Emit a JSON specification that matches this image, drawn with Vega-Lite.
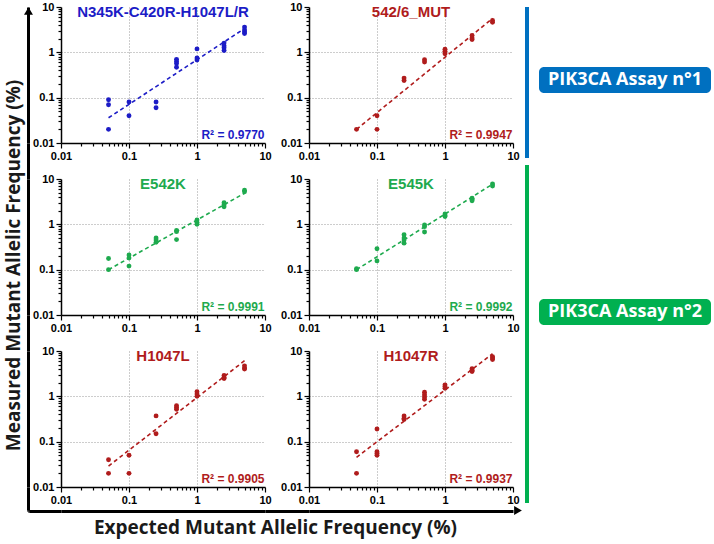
{
"$schema": "https://vega.github.io/schema/vega-lite/v6.json",
"padding": {"left": 3, "top": 1, "right": 0, "bottom": 6},
"background": "white",
"data": {"values": [{"v": 1}]},
"config": {
 "view": {"stroke": null},
 "font": "Liberation Sans",
 "axis": {"domainColor": "black", "domainWidth": 1.5, "tickColor": "black", "tickWidth": 1.2, "labelFont": "Liberation Sans", "labelFontSize": 11, "labelFontWeight": "bold", "labelColor": "black", "labelFlush": false, "labelOverlap": false, "labelPadding": 2, "gridColor": "#9a9a9a", "gridDash": [1, 2], "gridWidth": 1}
},
"datasets": {
 "pts": [
  {"panel": "A", "expected": 0.05, "measured": 0.09}, {"panel": "A", "expected": 0.05, "measured": 0.07}, {"panel": "A", "expected": 0.05, "measured": 0.02},
  {"panel": "A", "expected": 0.1, "measured": 0.08}, {"panel": "A", "expected": 0.1, "measured": 0.04},
  {"panel": "A", "expected": 0.25, "measured": 0.08}, {"panel": "A", "expected": 0.25, "measured": 0.06},
  {"panel": "A", "expected": 0.5, "measured": 0.70}, {"panel": "A", "expected": 0.5, "measured": 0.63}, {"panel": "A", "expected": 0.5, "measured": 0.57}, {"panel": "A", "expected": 0.5, "measured": 0.47},
  {"panel": "A", "expected": 1, "measured": 1.19}, {"panel": "A", "expected": 1, "measured": 0.75}, {"panel": "A", "expected": 1, "measured": 0.68},
  {"panel": "A", "expected": 2.5, "measured": 1.6}, {"panel": "A", "expected": 2.5, "measured": 1.4}, {"panel": "A", "expected": 2.5, "measured": 1.27}, {"panel": "A", "expected": 2.5, "measured": 1.1},
  {"panel": "A", "expected": 5, "measured": 3.6}, {"panel": "A", "expected": 5, "measured": 3.1}, {"panel": "A", "expected": 5, "measured": 2.8}, {"panel": "A", "expected": 5, "measured": 2.6},
  {"panel": "B", "expected": 0.05, "measured": 0.02},
  {"panel": "B", "expected": 0.1, "measured": 0.04}, {"panel": "B", "expected": 0.1, "measured": 0.02},
  {"panel": "B", "expected": 0.25, "measured": 0.27}, {"panel": "B", "expected": 0.25, "measured": 0.24},
  {"panel": "B", "expected": 0.5, "measured": 0.69}, {"panel": "B", "expected": 0.5, "measured": 0.61},
  {"panel": "B", "expected": 1, "measured": 1.17}, {"panel": "B", "expected": 1, "measured": 1.05}, {"panel": "B", "expected": 1, "measured": 0.93},
  {"panel": "B", "expected": 2.5, "measured": 2.35}, {"panel": "B", "expected": 2.5, "measured": 2.08}, {"panel": "B", "expected": 2.5, "measured": 1.91},
  {"panel": "B", "expected": 5, "measured": 5.05}, {"panel": "B", "expected": 5, "measured": 4.6},
  {"panel": "C", "expected": 0.05, "measured": 0.176}, {"panel": "C", "expected": 0.05, "measured": 0.1},
  {"panel": "C", "expected": 0.1, "measured": 0.21}, {"panel": "C", "expected": 0.1, "measured": 0.18}, {"panel": "C", "expected": 0.1, "measured": 0.12},
  {"panel": "C", "expected": 0.25, "measured": 0.5}, {"panel": "C", "expected": 0.25, "measured": 0.45}, {"panel": "C", "expected": 0.25, "measured": 0.40},
  {"panel": "C", "expected": 0.5, "measured": 0.73}, {"panel": "C", "expected": 0.5, "measured": 0.69}, {"panel": "C", "expected": 0.5, "measured": 0.46},
  {"panel": "C", "expected": 1, "measured": 1.25}, {"panel": "C", "expected": 1, "measured": 1.1}, {"panel": "C", "expected": 1, "measured": 1.0},
  {"panel": "C", "expected": 2.5, "measured": 3.0}, {"panel": "C", "expected": 2.5, "measured": 2.71}, {"panel": "C", "expected": 2.5, "measured": 2.44},
  {"panel": "C", "expected": 5, "measured": 5.67}, {"panel": "C", "expected": 5, "measured": 5.2},
  {"panel": "D", "expected": 0.05, "measured": 0.105}, {"panel": "D", "expected": 0.05, "measured": 0.1},
  {"panel": "D", "expected": 0.1, "measured": 0.29}, {"panel": "D", "expected": 0.1, "measured": 0.156},
  {"panel": "D", "expected": 0.25, "measured": 0.59}, {"panel": "D", "expected": 0.25, "measured": 0.5}, {"panel": "D", "expected": 0.25, "measured": 0.45}, {"panel": "D", "expected": 0.25, "measured": 0.385},
  {"panel": "D", "expected": 0.5, "measured": 0.97}, {"panel": "D", "expected": 0.5, "measured": 0.89}, {"panel": "D", "expected": 0.5, "measured": 0.68},
  {"panel": "D", "expected": 1, "measured": 1.7}, {"panel": "D", "expected": 1, "measured": 1.56}, {"panel": "D", "expected": 1, "measured": 1.48},
  {"panel": "D", "expected": 2.5, "measured": 3.78}, {"panel": "D", "expected": 2.5, "measured": 3.54}, {"panel": "D", "expected": 2.5, "measured": 3.3},
  {"panel": "D", "expected": 5, "measured": 7.74}, {"panel": "D", "expected": 5, "measured": 7.0},
  {"panel": "E", "expected": 0.05, "measured": 0.04}, {"panel": "E", "expected": 0.05, "measured": 0.02},
  {"panel": "E", "expected": 0.1, "measured": 0.05}, {"panel": "E", "expected": 0.1, "measured": 0.02},
  {"panel": "E", "expected": 0.25, "measured": 0.37}, {"panel": "E", "expected": 0.25, "measured": 0.15},
  {"panel": "E", "expected": 0.5, "measured": 0.62}, {"panel": "E", "expected": 0.5, "measured": 0.57}, {"panel": "E", "expected": 0.5, "measured": 0.52},
  {"panel": "E", "expected": 1, "measured": 1.27}, {"panel": "E", "expected": 1, "measured": 1.13}, {"panel": "E", "expected": 1, "measured": 1.0},
  {"panel": "E", "expected": 2.5, "measured": 2.88}, {"panel": "E", "expected": 2.5, "measured": 2.6}, {"panel": "E", "expected": 2.5, "measured": 2.47},
  {"panel": "E", "expected": 5, "measured": 4.7}, {"panel": "E", "expected": 5, "measured": 4.2}, {"panel": "E", "expected": 5, "measured": 4.0},
  {"panel": "F", "expected": 0.05, "measured": 0.06}, {"panel": "F", "expected": 0.05, "measured": 0.02},
  {"panel": "F", "expected": 0.1, "measured": 0.19}, {"panel": "F", "expected": 0.1, "measured": 0.06}, {"panel": "F", "expected": 0.1, "measured": 0.055}, {"panel": "F", "expected": 0.1, "measured": 0.05},
  {"panel": "F", "expected": 0.25, "measured": 0.37}, {"panel": "F", "expected": 0.25, "measured": 0.33}, {"panel": "F", "expected": 0.25, "measured": 0.31},
  {"panel": "F", "expected": 0.5, "measured": 1.23}, {"panel": "F", "expected": 0.5, "measured": 1.09}, {"panel": "F", "expected": 0.5, "measured": 0.97}, {"panel": "F", "expected": 0.5, "measured": 0.86},
  {"panel": "F", "expected": 1, "measured": 1.79}, {"panel": "F", "expected": 1, "measured": 1.64}, {"panel": "F", "expected": 1, "measured": 1.5},
  {"panel": "F", "expected": 2.5, "measured": 4.05}, {"panel": "F", "expected": 2.5, "measured": 3.78}, {"panel": "F", "expected": 2.5, "measured": 3.54},
  {"panel": "F", "expected": 5, "measured": 7.5}, {"panel": "F", "expected": 5, "measured": 6.98}, {"panel": "F", "expected": 5, "measured": 6.5}
 ],
 "fit": [
  {"panel": "A", "expected": 0.05, "measured": 0.036}, {"panel": "A", "expected": 5, "measured": 3.35},
  {"panel": "B", "expected": 0.05, "measured": 0.02}, {"panel": "B", "expected": 5, "measured": 5.6},
  {"panel": "C", "expected": 0.05, "measured": 0.1}, {"panel": "C", "expected": 5, "measured": 4.86},
  {"panel": "D", "expected": 0.05, "measured": 0.1}, {"panel": "D", "expected": 5, "measured": 7.7},
  {"panel": "E", "expected": 0.05, "measured": 0.029}, {"panel": "E", "expected": 5, "measured": 6.1},
  {"panel": "F", "expected": 0.05, "measured": 0.045}, {"panel": "F", "expected": 5, "measured": 8.7}
 ],
 "names": [
  {"panel": "A", "name": "N345K-C420R-H1047L/R"}, {"panel": "B", "name": "542/6_MUT"}, {"panel": "C", "name": "E542K"},
  {"panel": "D", "name": "E545K"}, {"panel": "E", "name": "H1047L"}, {"panel": "F", "name": "H1047R"}
 ]
},
"hconcat": [
 {"concat": [
  {"width": 1, "height": 136, "mark": {"type": "point", "shape": "triangle-up", "filled": true, "size": 80, "color": "black", "opacity": 1, "yOffset": 4},
   "encoding": {"y": {"field": "v", "type": "quantitative", "scale": {"domain": [0, 1], "nice": false}, "axis": {"title": null, "labels": false, "ticks": false, "grid": false, "domainWidth": 3, "domainColor": "black"}}}},
  {"width": 32, "height": 136, "mark": {"type": "point", "opacity": 0}, "encoding": {}},
  {"width": 204, "height": 136,
   "layer": [
    {"data": {"name": "fit"}, "transform": [{"filter": "datum.panel == 'A'"}],
     "mark": {"type": "line", "color": "#1c1cc6", "strokeDash": [4, 3], "strokeWidth": 1.6},
     "encoding": {
      "x": {"field": "expected", "type": "quantitative", "scale": {"type": "log", "domain": [0.01, 10]}, "axis": {"title": "R² = 0.9770", "titleColor": "#1c1cc6", "titleFont": "Liberation Sans", "titleFontSize": 12, "titleFontWeight": "bold", "titleX": 203, "titleY": -5, "titleAlign": "right", "titleBaseline": "alphabetic", "grid": true, "values": [0.01,0.02,0.03,0.04,0.05,0.06,0.07,0.08,0.09,0.1,0.2,0.3,0.4,0.5,0.6,0.7,0.8,0.9,1,2,3,4,5,6,7,8,9,10], "labelExpr": "datum.value == 0.01 ? '0.01' : datum.value == 0.1 ? '0.1' : datum.value == 1 ? '1' : datum.value == 10 ? '10' : ''", "tickSize": {"condition": {"test": "datum.value == 0.01 || datum.value == 0.1 || datum.value == 1 || datum.value == 10", "value": 5}, "value": 3}, "gridOpacity": {"condition": {"test": "datum.value == 0.1 || datum.value == 1", "value": 1}, "value": 0}}},
      "y": {"field": "measured", "type": "quantitative", "scale": {"type": "log", "domain": [0.01, 10]}, "axis": {"title": null, "grid": true, "values": [0.01,0.02,0.03,0.04,0.05,0.06,0.07,0.08,0.09,0.1,0.2,0.3,0.4,0.5,0.6,0.7,0.8,0.9,1,2,3,4,5,6,7,8,9,10], "labelExpr": "datum.value == 0.01 ? '0.01' : datum.value == 0.1 ? '0.1' : datum.value == 1 ? '1' : datum.value == 10 ? '10' : ''", "tickSize": {"condition": {"test": "datum.value == 0.01 || datum.value == 0.1 || datum.value == 1 || datum.value == 10", "value": 5}, "value": 3}, "gridOpacity": {"condition": {"test": "datum.value == 0.1 || datum.value == 1", "value": 1}, "value": 0}}}}},
    {"data": {"name": "pts"}, "transform": [{"filter": "datum.panel == 'A'"}],
     "mark": {"type": "circle", "color": "#1c1cc6", "size": 24, "opacity": 1},
     "encoding": {"x": {"field": "expected", "type": "quantitative"}, "y": {"field": "measured", "type": "quantitative"}}},
    {"data": {"name": "names"}, "transform": [{"filter": "datum.panel == 'A'"}],
     "mark": {"type": "text", "color": "#1c1cc6", "font": "Liberation Sans", "fontSize": 15, "fontWeight": "bold", "align": "center", "baseline": "alphabetic"},
     "encoding": {"text": {"field": "name"}, "y": {"datum": 6}}}
   ]},
  {"width": 44, "height": 136, "mark": {"type": "point", "opacity": 0}, "encoding": {}},
  {"width": 204, "height": 136,
   "layer": [
    {"data": {"name": "fit"}, "transform": [{"filter": "datum.panel == 'B'"}],
     "mark": {"type": "line", "color": "#b01c1c", "strokeDash": [4, 3], "strokeWidth": 1.6},
     "encoding": {
      "x": {"field": "expected", "type": "quantitative", "scale": {"type": "log", "domain": [0.01, 10]}, "axis": {"title": "R² = 0.9947", "titleColor": "#b01c1c", "titleFont": "Liberation Sans", "titleFontSize": 12, "titleFontWeight": "bold", "titleX": 203, "titleY": -5, "titleAlign": "right", "titleBaseline": "alphabetic", "grid": true, "values": [0.01,0.02,0.03,0.04,0.05,0.06,0.07,0.08,0.09,0.1,0.2,0.3,0.4,0.5,0.6,0.7,0.8,0.9,1,2,3,4,5,6,7,8,9,10], "labelExpr": "datum.value == 0.01 ? '0.01' : datum.value == 0.1 ? '0.1' : datum.value == 1 ? '1' : datum.value == 10 ? '10' : ''", "tickSize": {"condition": {"test": "datum.value == 0.01 || datum.value == 0.1 || datum.value == 1 || datum.value == 10", "value": 5}, "value": 3}, "gridOpacity": {"condition": {"test": "datum.value == 0.1 || datum.value == 1", "value": 1}, "value": 0}}},
      "y": {"field": "measured", "type": "quantitative", "scale": {"type": "log", "domain": [0.01, 10]}, "axis": {"title": null, "grid": true, "values": [0.01,0.02,0.03,0.04,0.05,0.06,0.07,0.08,0.09,0.1,0.2,0.3,0.4,0.5,0.6,0.7,0.8,0.9,1,2,3,4,5,6,7,8,9,10], "labelExpr": "datum.value == 0.01 ? '0.01' : datum.value == 0.1 ? '0.1' : datum.value == 1 ? '1' : datum.value == 10 ? '10' : ''", "tickSize": {"condition": {"test": "datum.value == 0.01 || datum.value == 0.1 || datum.value == 1 || datum.value == 10", "value": 5}, "value": 3}, "gridOpacity": {"condition": {"test": "datum.value == 0.1 || datum.value == 1", "value": 1}, "value": 0}}}}},
    {"data": {"name": "pts"}, "transform": [{"filter": "datum.panel == 'B'"}],
     "mark": {"type": "circle", "color": "#b01c1c", "size": 24, "opacity": 1},
     "encoding": {"x": {"field": "expected", "type": "quantitative"}, "y": {"field": "measured", "type": "quantitative"}}},
    {"data": {"name": "names"}, "transform": [{"filter": "datum.panel == 'B'"}],
     "mark": {"type": "text", "color": "#b01c1c", "font": "Liberation Sans", "fontSize": 15, "fontWeight": "bold", "align": "center", "baseline": "alphabetic"},
     "encoding": {"text": {"field": "name"}, "y": {"datum": 6}}}
   ]},

  {"width": 1, "height": 36, "mark": {"type": "point", "opacity": 0}, "encoding": {"y": {"field": "v", "type": "quantitative", "scale": {"domain": [0, 1], "nice": false}, "axis": {"title": null, "labels": false, "ticks": false, "grid": false, "domainWidth": 3, "domainColor": "black"}}}},
  {"width": 32, "height": 36, "mark": {"type": "point", "opacity": 0}, "encoding": {}},
  {"width": 204, "height": 36, "mark": {"type": "point", "opacity": 0}, "encoding": {}},
  {"width": 44, "height": 36, "mark": {"type": "point", "opacity": 0}, "encoding": {}},
  {"width": 204, "height": 36, "mark": {"type": "point", "opacity": 0}, "encoding": {}},

  {"width": 1, "height": 136, "mark": {"type": "point", "opacity": 0}, "encoding": {"y": {"field": "v", "type": "quantitative", "scale": {"domain": [0, 1], "nice": false}, "axis": {"title": "Measured Mutant Allelic Frequency (%)", "titleFont": "Open Sans", "titleFontSize": 19, "titleFontWeight": "bold", "titleColor": "#1a1a1a", "titlePadding": 5, "titleY": 86, "labels": false, "ticks": false, "grid": false, "domainWidth": 3, "domainColor": "black"}}}},
  {"width": 32, "height": 136, "mark": {"type": "point", "opacity": 0}, "encoding": {}},
  {"width": 204, "height": 136,
   "layer": [
    {"data": {"name": "fit"}, "transform": [{"filter": "datum.panel == 'C'"}],
     "mark": {"type": "line", "color": "#1eaa4e", "strokeDash": [4, 3], "strokeWidth": 1.6},
     "encoding": {
      "x": {"field": "expected", "type": "quantitative", "scale": {"type": "log", "domain": [0.01, 10]}, "axis": {"title": "R² = 0.9991", "titleColor": "#1eaa4e", "titleFont": "Liberation Sans", "titleFontSize": 12, "titleFontWeight": "bold", "titleX": 203, "titleY": -5, "titleAlign": "right", "titleBaseline": "alphabetic", "grid": true, "values": [0.01,0.02,0.03,0.04,0.05,0.06,0.07,0.08,0.09,0.1,0.2,0.3,0.4,0.5,0.6,0.7,0.8,0.9,1,2,3,4,5,6,7,8,9,10], "labelExpr": "datum.value == 0.01 ? '0.01' : datum.value == 0.1 ? '0.1' : datum.value == 1 ? '1' : datum.value == 10 ? '10' : ''", "tickSize": {"condition": {"test": "datum.value == 0.01 || datum.value == 0.1 || datum.value == 1 || datum.value == 10", "value": 5}, "value": 3}, "gridOpacity": {"condition": {"test": "datum.value == 0.1 || datum.value == 1", "value": 1}, "value": 0}}},
      "y": {"field": "measured", "type": "quantitative", "scale": {"type": "log", "domain": [0.01, 10]}, "axis": {"title": null, "grid": true, "values": [0.01,0.02,0.03,0.04,0.05,0.06,0.07,0.08,0.09,0.1,0.2,0.3,0.4,0.5,0.6,0.7,0.8,0.9,1,2,3,4,5,6,7,8,9,10], "labelExpr": "datum.value == 0.01 ? '0.01' : datum.value == 0.1 ? '0.1' : datum.value == 1 ? '1' : datum.value == 10 ? '10' : ''", "tickSize": {"condition": {"test": "datum.value == 0.01 || datum.value == 0.1 || datum.value == 1 || datum.value == 10", "value": 5}, "value": 3}, "gridOpacity": {"condition": {"test": "datum.value == 0.1 || datum.value == 1", "value": 1}, "value": 0}}}}},
    {"data": {"name": "pts"}, "transform": [{"filter": "datum.panel == 'C'"}],
     "mark": {"type": "circle", "color": "#1eaa4e", "size": 24, "opacity": 1},
     "encoding": {"x": {"field": "expected", "type": "quantitative"}, "y": {"field": "measured", "type": "quantitative"}}},
    {"data": {"name": "names"}, "transform": [{"filter": "datum.panel == 'C'"}],
     "mark": {"type": "text", "color": "#1eaa4e", "font": "Liberation Sans", "fontSize": 15, "fontWeight": "bold", "align": "center", "baseline": "alphabetic"},
     "encoding": {"text": {"field": "name"}, "y": {"datum": 6}}}
   ]},
  {"width": 44, "height": 136, "mark": {"type": "point", "opacity": 0}, "encoding": {}},
  {"width": 204, "height": 136,
   "layer": [
    {"data": {"name": "fit"}, "transform": [{"filter": "datum.panel == 'D'"}],
     "mark": {"type": "line", "color": "#1eaa4e", "strokeDash": [4, 3], "strokeWidth": 1.6},
     "encoding": {
      "x": {"field": "expected", "type": "quantitative", "scale": {"type": "log", "domain": [0.01, 10]}, "axis": {"title": "R² = 0.9992", "titleColor": "#1eaa4e", "titleFont": "Liberation Sans", "titleFontSize": 12, "titleFontWeight": "bold", "titleX": 203, "titleY": -5, "titleAlign": "right", "titleBaseline": "alphabetic", "grid": true, "values": [0.01,0.02,0.03,0.04,0.05,0.06,0.07,0.08,0.09,0.1,0.2,0.3,0.4,0.5,0.6,0.7,0.8,0.9,1,2,3,4,5,6,7,8,9,10], "labelExpr": "datum.value == 0.01 ? '0.01' : datum.value == 0.1 ? '0.1' : datum.value == 1 ? '1' : datum.value == 10 ? '10' : ''", "tickSize": {"condition": {"test": "datum.value == 0.01 || datum.value == 0.1 || datum.value == 1 || datum.value == 10", "value": 5}, "value": 3}, "gridOpacity": {"condition": {"test": "datum.value == 0.1 || datum.value == 1", "value": 1}, "value": 0}}},
      "y": {"field": "measured", "type": "quantitative", "scale": {"type": "log", "domain": [0.01, 10]}, "axis": {"title": null, "grid": true, "values": [0.01,0.02,0.03,0.04,0.05,0.06,0.07,0.08,0.09,0.1,0.2,0.3,0.4,0.5,0.6,0.7,0.8,0.9,1,2,3,4,5,6,7,8,9,10], "labelExpr": "datum.value == 0.01 ? '0.01' : datum.value == 0.1 ? '0.1' : datum.value == 1 ? '1' : datum.value == 10 ? '10' : ''", "tickSize": {"condition": {"test": "datum.value == 0.01 || datum.value == 0.1 || datum.value == 1 || datum.value == 10", "value": 5}, "value": 3}, "gridOpacity": {"condition": {"test": "datum.value == 0.1 || datum.value == 1", "value": 1}, "value": 0}}}}},
    {"data": {"name": "pts"}, "transform": [{"filter": "datum.panel == 'D'"}],
     "mark": {"type": "circle", "color": "#1eaa4e", "size": 24, "opacity": 1},
     "encoding": {"x": {"field": "expected", "type": "quantitative"}, "y": {"field": "measured", "type": "quantitative"}}},
    {"data": {"name": "names"}, "transform": [{"filter": "datum.panel == 'D'"}],
     "mark": {"type": "text", "color": "#1eaa4e", "font": "Liberation Sans", "fontSize": 15, "fontWeight": "bold", "align": "center", "baseline": "alphabetic"},
     "encoding": {"text": {"field": "name"}, "y": {"datum": 6}}}
   ]},

  {"width": 1, "height": 36, "mark": {"type": "point", "opacity": 0}, "encoding": {"y": {"field": "v", "type": "quantitative", "scale": {"domain": [0, 1], "nice": false}, "axis": {"title": null, "labels": false, "ticks": false, "grid": false, "domainWidth": 3, "domainColor": "black"}}}},
  {"width": 32, "height": 36, "mark": {"type": "point", "opacity": 0}, "encoding": {}},
  {"width": 204, "height": 36, "mark": {"type": "point", "opacity": 0}, "encoding": {}},
  {"width": 44, "height": 36, "mark": {"type": "point", "opacity": 0}, "encoding": {}},
  {"width": 204, "height": 36, "mark": {"type": "point", "opacity": 0}, "encoding": {}},

  {"width": 1, "height": 136, "mark": {"type": "point", "opacity": 0}, "encoding": {"y": {"field": "v", "type": "quantitative", "scale": {"domain": [0, 1], "nice": false}, "axis": {"title": null, "labels": false, "ticks": false, "grid": false, "domainWidth": 3, "domainColor": "black"}}}},
  {"width": 32, "height": 136, "mark": {"type": "point", "opacity": 0}, "encoding": {}},
  {"width": 204, "height": 136,
   "layer": [
    {"data": {"name": "fit"}, "transform": [{"filter": "datum.panel == 'E'"}],
     "mark": {"type": "line", "color": "#b01c1c", "strokeDash": [4, 3], "strokeWidth": 1.6},
     "encoding": {
      "x": {"field": "expected", "type": "quantitative", "scale": {"type": "log", "domain": [0.01, 10]}, "axis": {"title": "R² = 0.9905", "titleColor": "#b01c1c", "titleFont": "Liberation Sans", "titleFontSize": 12, "titleFontWeight": "bold", "titleX": 203, "titleY": -5, "titleAlign": "right", "titleBaseline": "alphabetic", "grid": true, "values": [0.01,0.02,0.03,0.04,0.05,0.06,0.07,0.08,0.09,0.1,0.2,0.3,0.4,0.5,0.6,0.7,0.8,0.9,1,2,3,4,5,6,7,8,9,10], "labelExpr": "datum.value == 0.01 ? '0.01' : datum.value == 0.1 ? '0.1' : datum.value == 1 ? '1' : datum.value == 10 ? '10' : ''", "tickSize": {"condition": {"test": "datum.value == 0.01 || datum.value == 0.1 || datum.value == 1 || datum.value == 10", "value": 5}, "value": 3}, "gridOpacity": {"condition": {"test": "datum.value == 0.1 || datum.value == 1", "value": 1}, "value": 0}}},
      "y": {"field": "measured", "type": "quantitative", "scale": {"type": "log", "domain": [0.01, 10]}, "axis": {"title": null, "grid": true, "values": [0.01,0.02,0.03,0.04,0.05,0.06,0.07,0.08,0.09,0.1,0.2,0.3,0.4,0.5,0.6,0.7,0.8,0.9,1,2,3,4,5,6,7,8,9,10], "labelExpr": "datum.value == 0.01 ? '0.01' : datum.value == 0.1 ? '0.1' : datum.value == 1 ? '1' : datum.value == 10 ? '10' : ''", "tickSize": {"condition": {"test": "datum.value == 0.01 || datum.value == 0.1 || datum.value == 1 || datum.value == 10", "value": 5}, "value": 3}, "gridOpacity": {"condition": {"test": "datum.value == 0.1 || datum.value == 1", "value": 1}, "value": 0}}}}},
    {"data": {"name": "pts"}, "transform": [{"filter": "datum.panel == 'E'"}],
     "mark": {"type": "circle", "color": "#b01c1c", "size": 24, "opacity": 1},
     "encoding": {"x": {"field": "expected", "type": "quantitative"}, "y": {"field": "measured", "type": "quantitative"}}},
    {"data": {"name": "names"}, "transform": [{"filter": "datum.panel == 'E'"}],
     "mark": {"type": "text", "color": "#b01c1c", "font": "Liberation Sans", "fontSize": 15, "fontWeight": "bold", "align": "center", "baseline": "alphabetic"},
     "encoding": {"text": {"field": "name"}, "y": {"datum": 6}}}
   ]},
  {"width": 44, "height": 136, "mark": {"type": "point", "opacity": 0}, "encoding": {}},
  {"width": 204, "height": 136,
   "layer": [
    {"data": {"name": "fit"}, "transform": [{"filter": "datum.panel == 'F'"}],
     "mark": {"type": "line", "color": "#b01c1c", "strokeDash": [4, 3], "strokeWidth": 1.6},
     "encoding": {
      "x": {"field": "expected", "type": "quantitative", "scale": {"type": "log", "domain": [0.01, 10]}, "axis": {"title": "R² = 0.9937", "titleColor": "#b01c1c", "titleFont": "Liberation Sans", "titleFontSize": 12, "titleFontWeight": "bold", "titleX": 203, "titleY": -5, "titleAlign": "right", "titleBaseline": "alphabetic", "grid": true, "values": [0.01,0.02,0.03,0.04,0.05,0.06,0.07,0.08,0.09,0.1,0.2,0.3,0.4,0.5,0.6,0.7,0.8,0.9,1,2,3,4,5,6,7,8,9,10], "labelExpr": "datum.value == 0.01 ? '0.01' : datum.value == 0.1 ? '0.1' : datum.value == 1 ? '1' : datum.value == 10 ? '10' : ''", "tickSize": {"condition": {"test": "datum.value == 0.01 || datum.value == 0.1 || datum.value == 1 || datum.value == 10", "value": 5}, "value": 3}, "gridOpacity": {"condition": {"test": "datum.value == 0.1 || datum.value == 1", "value": 1}, "value": 0}}},
      "y": {"field": "measured", "type": "quantitative", "scale": {"type": "log", "domain": [0.01, 10]}, "axis": {"title": null, "grid": true, "values": [0.01,0.02,0.03,0.04,0.05,0.06,0.07,0.08,0.09,0.1,0.2,0.3,0.4,0.5,0.6,0.7,0.8,0.9,1,2,3,4,5,6,7,8,9,10], "labelExpr": "datum.value == 0.01 ? '0.01' : datum.value == 0.1 ? '0.1' : datum.value == 1 ? '1' : datum.value == 10 ? '10' : ''", "tickSize": {"condition": {"test": "datum.value == 0.01 || datum.value == 0.1 || datum.value == 1 || datum.value == 10", "value": 5}, "value": 3}, "gridOpacity": {"condition": {"test": "datum.value == 0.1 || datum.value == 1", "value": 1}, "value": 0}}}}},
    {"data": {"name": "pts"}, "transform": [{"filter": "datum.panel == 'F'"}],
     "mark": {"type": "circle", "color": "#b01c1c", "size": 24, "opacity": 1},
     "encoding": {"x": {"field": "expected", "type": "quantitative"}, "y": {"field": "measured", "type": "quantitative"}}},
    {"data": {"name": "names"}, "transform": [{"filter": "datum.panel == 'F'"}],
     "mark": {"type": "text", "color": "#b01c1c", "font": "Liberation Sans", "fontSize": 15, "fontWeight": "bold", "align": "center", "baseline": "alphabetic"},
     "encoding": {"text": {"field": "name"}, "y": {"datum": 6}}}
   ]},

  {"width": 1, "height": 23, "mark": {"type": "point", "opacity": 0}, "encoding": {"y": {"field": "v", "type": "quantitative", "scale": {"domain": [0, 1], "nice": false}, "axis": {"title": null, "labels": false, "ticks": false, "grid": false, "domainWidth": 3, "domainColor": "black"}}}},
  {"width": 32, "height": 23, "mark": {"type": "point", "opacity": 0}, "encoding": {}},
  {"width": 204, "height": 23, "mark": {"type": "point", "opacity": 0}, "encoding": {}},
  {"width": 44, "height": 23, "mark": {"type": "point", "opacity": 0}, "encoding": {}},
  {"width": 204, "height": 23, "mark": {"type": "point", "opacity": 0}, "encoding": {}},

  {"width": 1, "height": 1, "mark": {"type": "point", "opacity": 0}, "encoding": {"x": {"field": "v", "type": "quantitative", "scale": {"domain": [0, 1], "nice": false}, "axis": {"title": null, "labels": false, "ticks": false, "grid": false, "domainWidth": 3, "domainColor": "black"}}, "y": {"field": "v", "type": "quantitative", "scale": {"domain": [0, 1], "nice": false}, "axis": {"title": null, "labels": false, "ticks": false, "grid": false, "domainWidth": 3, "domainColor": "black"}}}},
  {"width": 32, "height": 1, "mark": {"type": "point", "opacity": 0}, "encoding": {"x": {"field": "v", "type": "quantitative", "scale": {"domain": [0, 1], "nice": false}, "axis": {"title": null, "labels": false, "ticks": false, "grid": false, "domainWidth": 3, "domainColor": "black"}}}},
  {"width": 204, "height": 1, "mark": {"type": "point", "opacity": 0}, "encoding": {"x": {"field": "v", "type": "quantitative", "scale": {"domain": [0, 1], "nice": false}, "axis": {"title": "Expected Mutant Allelic Frequency (%)", "titleFont": "Open Sans", "titleFontSize": 19, "titleFontWeight": "bold", "titleColor": "#1a1a1a", "titlePadding": 7, "titleX": 214, "titleAlign": "center", "labels": false, "ticks": false, "grid": false, "domainWidth": 3, "domainColor": "black"}}}},
  {"width": 44, "height": 1, "mark": {"type": "point", "opacity": 0}, "encoding": {"x": {"field": "v", "type": "quantitative", "scale": {"domain": [0, 1], "nice": false}, "axis": {"title": null, "labels": false, "ticks": false, "grid": false, "domainWidth": 3, "domainColor": "black"}}}},
  {"width": 204, "height": 1, "mark": {"type": "point", "shape": "triangle-right", "filled": true, "size": 80, "color": "black", "opacity": 1, "xOffset": 5}, "encoding": {"x": {"field": "v", "type": "quantitative", "scale": {"domain": [0, 1], "nice": false}, "axis": {"title": null, "labels": false, "ticks": false, "grid": false, "domainWidth": 3, "domainColor": "black"}}}}
 ], "columns": 5, "spacing": 0, "bounds": "flush"},

 {"concat": [
  {"width": 4, "height": 60, "mark": {"type": "point", "opacity": 0}, "encoding": {}, "view": {"fill": "#0070C0", "stroke": null}},
  {"width": 10, "height": 60, "mark": {"type": "point", "opacity": 0}, "encoding": {}},
  {"width": 172, "height": 60, "mark": {"type": "point", "opacity": 0}, "encoding": {}},

  {"width": 4, "height": 26, "mark": {"type": "point", "opacity": 0}, "encoding": {}, "view": {"fill": "#0070C0", "stroke": null}},
  {"width": 10, "height": 26, "mark": {"type": "point", "opacity": 0}, "encoding": {}},
  {"width": 172, "height": 26, "data": {"values": [{"label": "PIK3CA Assay n°1"}]}, "mark": {"type": "text", "color": "white", "font": "Open Sans", "fontSize": 18, "fontWeight": "bold", "align": "center", "baseline": "middle"}, "encoding": {"text": {"field": "label"}}, "view": {"fill": "#0070C0", "stroke": null, "cornerRadius": 5}},

  {"width": 4, "height": 65, "mark": {"type": "point", "opacity": 0}, "encoding": {}, "view": {"fill": "#0070C0", "stroke": null}},
  {"width": 10, "height": 65, "mark": {"type": "point", "opacity": 0}, "encoding": {}},
  {"width": 172, "height": 65, "mark": {"type": "point", "opacity": 0}, "encoding": {}},

  {"width": 4, "height": 7, "mark": {"type": "point", "opacity": 0}, "encoding": {}},
  {"width": 10, "height": 7, "mark": {"type": "point", "opacity": 0}, "encoding": {}},
  {"width": 172, "height": 7, "mark": {"type": "point", "opacity": 0}, "encoding": {}},

  {"width": 4, "height": 134, "mark": {"type": "point", "opacity": 0}, "encoding": {}, "view": {"fill": "#00B050", "stroke": null}},
  {"width": 10, "height": 134, "mark": {"type": "point", "opacity": 0}, "encoding": {}},
  {"width": 172, "height": 134, "mark": {"type": "point", "opacity": 0}, "encoding": {}},

  {"width": 4, "height": 26, "mark": {"type": "point", "opacity": 0}, "encoding": {}, "view": {"fill": "#00B050", "stroke": null}},
  {"width": 10, "height": 26, "mark": {"type": "point", "opacity": 0}, "encoding": {}},
  {"width": 172, "height": 26, "data": {"values": [{"label": "PIK3CA Assay n°2"}]}, "mark": {"type": "text", "color": "white", "font": "Open Sans", "fontSize": 18, "fontWeight": "bold", "align": "center", "baseline": "middle"}, "encoding": {"text": {"field": "label"}}, "view": {"fill": "#00B050", "stroke": null, "cornerRadius": 5}},

  {"width": 4, "height": 178, "mark": {"type": "point", "opacity": 0}, "encoding": {}, "view": {"fill": "#00B050", "stroke": null}},
  {"width": 10, "height": 178, "mark": {"type": "point", "opacity": 0}, "encoding": {}},
  {"width": 172, "height": 178, "mark": {"type": "point", "opacity": 0}, "encoding": {}}
 ], "columns": 3, "spacing": 0, "bounds": "flush"}
], "spacing": 2
}
